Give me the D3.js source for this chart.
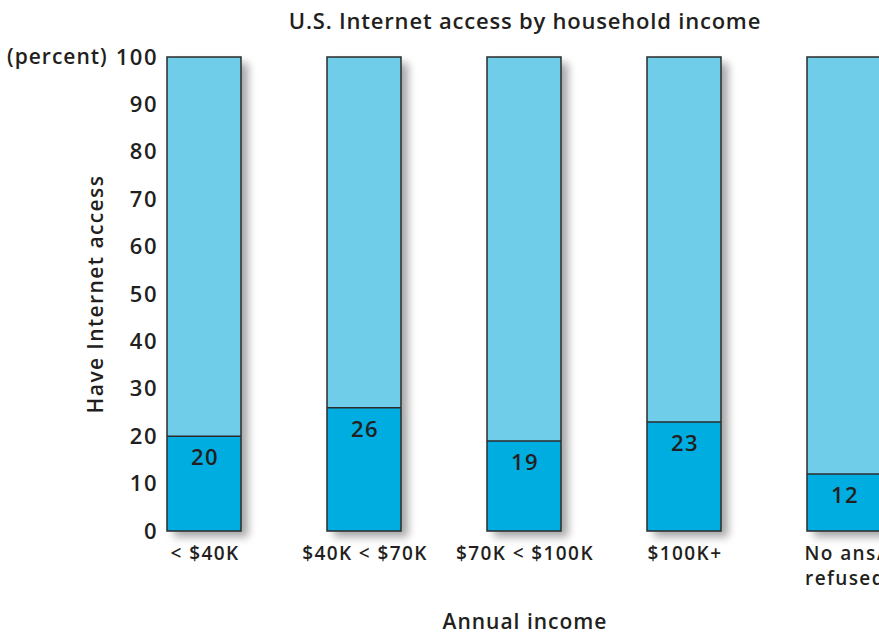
<!DOCTYPE html>
<html>
<head>
<meta charset="utf-8">
<script src="https://cdn.jsdelivr.net/npm/d3@7"></script>
<style>
  body { margin: 0; background: #fff; }
  text { font-family: "Open Sans", Lato, sans-serif; fill: #231f20; }
</style>
</head>
<body>
<div id="chart"></div>
<script>
// data
const categories = ["< $40K", "$40K < $70K", "$70K < $100K", "$100K+", "No ans/\nrefused"];
const haveAccess = [20, 26, 19, 23, 12];
const yTicks = [0, 10, 20, 30, 40, 50, 60, 70, 80, 90, 100];

const width = 879, height = 633;
const textColor = "#231f20";
const fontFam = "'Open Sans', Lato, sans-serif";

const svg = d3.select("#chart")
  .append("svg")
  .attr("width", width)
  .attr("height", height);

// drop shadow for bars
const defs = svg.append("defs");
defs.append("filter")
  .attr("id", "shadow")
  .attr("x", "-20%").attr("y", "-10%")
  .attr("width", "160%").attr("height", "130%")
  .append("feDropShadow")
  .attr("dx", 7).attr("dy", 6)
  .attr("stdDeviation", 4)
  .attr("flood-color", "#000")
  .attr("flood-opacity", 0.35);

// scales
const x = d3.scaleBand()
  .domain(categories)
  .range([124, 924])
  .paddingInner(0.5375)
  .paddingOuter(0.26875);

const y = d3.scaleLinear()
  .domain([0, 100])
  .range([531, 57]);

// title
svg.append("text")
  .attr("x", 525)
  .attr("y", 29)
  .attr("text-anchor", "middle")
  .style("font-size", "22px")
  .style("font-weight", "600")
  .style("letter-spacing", "0.8px")
  .text("U.S. Internet access by household income");

// y axis tick labels
svg.append("g")
  .attr("transform", "translate(158,0)")
  .call(d3.axisLeft(y).tickValues(yTicks).tickSize(0).tickPadding(0))
  .call(g => g.select(".domain").remove())
  .selectAll("text")
  .style("font-family", fontFam)
  .style("font-size", "22px")
  .style("font-weight", "600")
  .style("letter-spacing", "1.5px")
  .style("fill", textColor);

svg.append("text")
  .attr("x", 7)
  .attr("y", 64)
  .style("font-size", "21px")
  .style("font-weight", "600")
  .style("letter-spacing", "1px")
  .text("(percent)");

// y axis title
svg.append("text")
  .attr("transform", "translate(103,294) rotate(-90)")
  .attr("text-anchor", "middle")
  .style("font-size", "21px")
  .style("font-weight", "600")
  .style("letter-spacing", "1.4px")
  .text("Have Internet access");

// bars
const bars = svg.append("g")
  .selectAll("g")
  .data(categories)
  .join("g")
  .attr("filter", "url(#shadow)");

bars.append("rect")
  .attr("x", d => x(d))
  .attr("y", y(100))
  .attr("width", x.bandwidth())
  .attr("height", y(0) - y(100))
  .attr("fill", "#6fcde9");

bars.append("rect")
  .attr("x", d => x(d))
  .attr("y", (d, i) => y(haveAccess[i]))
  .attr("width", x.bandwidth())
  .attr("height", (d, i) => y(0) - y(haveAccess[i]))
  .attr("fill", "#00ade0");

// outlines on top (no shadow)
const outlines = svg.append("g")
  .selectAll("g")
  .data(categories)
  .join("g");

outlines.append("rect")
  .attr("x", d => x(d))
  .attr("y", y(100))
  .attr("width", x.bandwidth())
  .attr("height", y(0) - y(100))
  .attr("fill", "none")
  .attr("stroke", "#2b2b2b")
  .attr("stroke-width", 1.5);

outlines.append("line")
  .attr("x1", d => x(d))
  .attr("x2", d => x(d) + x.bandwidth())
  .attr("y1", (d, i) => y(haveAccess[i]))
  .attr("y2", (d, i) => y(haveAccess[i]))
  .attr("stroke", "#2b2b2b")
  .attr("stroke-width", 1.5);

// value labels
outlines.append("text")
  .attr("x", d => x(d) + x.bandwidth() / 2 + 1)
  .attr("y", (d, i) => y(haveAccess[i]) + 29)
  .attr("text-anchor", "middle")
  .style("font-size", "22px")
  .style("font-weight", "600")
  .style("letter-spacing", "1.5px")
  .text((d, i) => haveAccess[i]);

// x category labels
const xl = svg.append("g")
  .selectAll("text")
  .data(categories)
  .join("text")
  .attr("x", d => x(d) + x.bandwidth() / 2 + 1)
  .attr("y", 560)
  .attr("text-anchor", "middle")
  .style("font-size", "19px")
  .style("font-weight", "600")
  .style("letter-spacing", "1.4px");

xl.selectAll("tspan")
  .data(d => d.split("\n"))
  .join("tspan")
  .attr("x", function() { return this.parentNode.getAttribute("x"); })
  .attr("dy", (d, i) => i === 0 ? 0 : 25)
  .text(d => d);

// x axis title
svg.append("text")
  .attr("x", 525)
  .attr("y", 629)
  .attr("text-anchor", "middle")
  .style("font-size", "21px")
  .style("font-weight", "600")
  .style("letter-spacing", "1px")
  .text("Annual income");
</script>
</body>
</html>
